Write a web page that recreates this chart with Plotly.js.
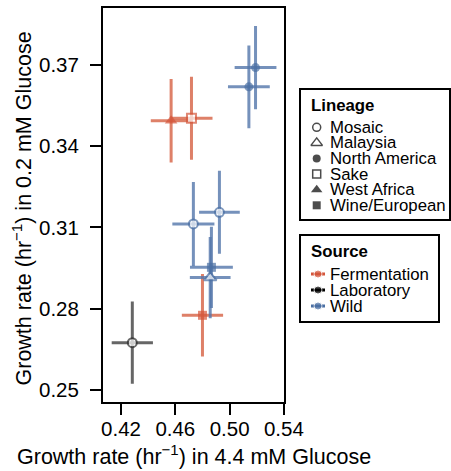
<!DOCTYPE html>
<html>
<head>
<meta charset="utf-8">
<script src="https://cdn.plot.ly/plotly-3.0.1.min.js"></script>
<style>html,body{margin:0;padding:0;background:#fff;}#chart{width:451px;height:471px;}</style>
</head>
<body>
<div id="chart"></div>
<script>
// ---- data ----
const strainLineage = ["West Africa","Sake","Wine/European","Mosaic","North America","North America","Mosaic","Mosaic","Wine/European","Malaysia"];
const strainSource  = ["Fermentation","Fermentation","Fermentation","Laboratory","Wild","Wild","Wild","Wild","Wild","Wild"];
const growth44  = [0.4569,0.4719,0.4800,0.4283,0.5191,0.5142,0.4733,0.4925,0.4866,0.4857];
const growth02  = [0.3494,0.3503,0.2776,0.2675,0.3690,0.3619,0.3113,0.3156,0.2953,0.2915];
const err44     = [0.0150,0.0155,0.0152,0.0152,0.0154,0.0154,0.0155,0.0150,0.0158,0.0150];
const err02     = [0.0154,0.0153,0.0152,0.0152,0.0154,0.0153,0.0155,0.0153,0.0150,0.0150];

const lineageNames = ["Mosaic","Malaysia","North America","Sake","West Africa","Wine/European"];
const sourceNames  = ["Fermentation","Laboratory","Wild"];
const xTicks = [0.42,0.46,0.50,0.54];
const yTicks = [0.25,0.28,0.31,0.34,0.37];

// ---- styles ----
const W = 451, H = 471;
const symbolOf = {"Mosaic":"circle","Malaysia":"triangle-up","North America":"circle","Sake":"square","West Africa":"triangle-up","Wine/European":"square"};
const openOf   = {"Mosaic":true,"Malaysia":true,"North America":false,"Sake":true,"West Africa":false,"Wine/European":false};
const sizeOf   = {"circle":9,"square":9,"triangle-up":11};
const markColor = {"Fermentation":"#D4553A","Laboratory":"#2b2b2b","Wild":"#4A6FA3"};
const barColor  = {"Fermentation":"rgba(214,96,66,0.8)","Laboratory":"rgba(85,85,85,0.9)","Wild":"rgba(82,118,170,0.8)"};
const legColor  = {"Fermentation":"#D4553A","Laboratory":"#000000","Wild":"#4A6FA3"};

const FONT = "Liberation Sans, Arial, Helvetica, sans-serif";
const LEGFS = 16.8, TITLEFS = 21.5, TICKFS = 20.5;
const traces = [];
sourceNames.forEach(src => {
  const idx = strainSource.map((s,i)=> s===src ? i : -1).filter(i=>i>=0);
  traces.push({
    type:"scatter", mode:"markers", xaxis:"x", yaxis:"y",
    x: idx.map(i=>growth44[i]), y: idx.map(i=>growth02[i]),
    error_x:{type:"data", array: idx.map(i=>err44[i]), visible:true, color:barColor[src], thickness:3, width:0},
    error_y:{type:"data", array: idx.map(i=>err02[i]), visible:true, color:barColor[src], thickness:3, width:0},
    marker:{
      symbol: idx.map(i=>symbolOf[strainLineage[i]]),
      size: idx.map(i=>sizeOf[symbolOf[strainLineage[i]]]),
      color: idx.map(i=> openOf[strainLineage[i]] ? "#ffffff" : markColor[src]),
      line:{color: markColor[src], width: idx.map(i=> openOf[strainLineage[i]] ? 2 : 0)}
    },
    showlegend:false, hoverinfo:"skip", cliponaxis:false
  });
});

// ---- hand-drawn legends on a pixel-scaled overlay axis ----
const legX0 = 316.7, legTextX = 328, lineageY0 = 127.3, step = 15.6;
traces.push({
  type:"scatter", mode:"markers", xaxis:"x2", yaxis:"y2",
  x: lineageNames.map(()=>legX0),
  y: lineageNames.map((n,k)=>lineageY0 + k*step),
  marker:{
    symbol: lineageNames.map(n=>symbolOf[n]),
    size: lineageNames.map(n=> symbolOf[n]==="triangle-up" ? 10 : 8),
    color: lineageNames.map(n=> openOf[n] ? "#ffffff" : "#000000"),
    line:{color:"#000000", width: lineageNames.map(n=> openOf[n] ? 1.5 : 0)}
  },
  showlegend:false, hoverinfo:"skip", cliponaxis:false
});
const sourceY0 = 274, sStep = 16;
sourceNames.forEach((s,k)=>{
  const yy = sourceY0 + k*sStep;
  traces.push({
    type:"scatter", mode:"lines+markers", xaxis:"x2", yaxis:"y2",
    x:[311, 318, 325], y:[yy,yy,yy],
    line:{color:legColor[s], width:3},
    marker:{color:legColor[s], size:[0,8,0], symbol:"circle"},
    showlegend:false, hoverinfo:"skip", cliponaxis:false
  });
});

const annotations = [];
annotations.push({xref:"x2", yref:"y2", x:309, y:105, text:"<b>Lineage</b>", showarrow:false, xanchor:"left", yanchor:"middle", font:{family:FONT, size:LEGFS, color:"#000"}});
lineageNames.forEach((n,k)=>annotations.push({xref:"x2", yref:"y2", x:legTextX, y:lineageY0+k*step, text:n, showarrow:false, xanchor:"left", yanchor:"middle", font:{family:FONT, size:LEGFS, color:"#000"}}));
annotations.push({xref:"x2", yref:"y2", x:309, y:251.7, text:"<b>Source</b>", showarrow:false, xanchor:"left", yanchor:"middle", font:{family:FONT, size:LEGFS, color:"#000"}});
sourceNames.forEach((n,k)=>annotations.push({xref:"x2", yref:"y2", x:legTextX, y:sourceY0+k*sStep, text:n, showarrow:false, xanchor:"left", yanchor:"middle", font:{family:FONT, size:LEGFS, color:"#000"}}));
// axis titles
annotations.push({xref:"x2", yref:"y2", x:193.5, y:455, text:"Growth rate (hr<sup>\u22121</sup>) in 4.4 mM Glucose", showarrow:false, xanchor:"center", yanchor:"middle", font:{family:FONT, size:TITLEFS, color:"#000"}});
annotations.push({xref:"x2", yref:"y2", x:21, y:208.5, text:"Growth rate (hr<sup>\u22121</sup>) in 0.2 mM Glucose", showarrow:false, textangle:-90, xanchor:"center", yanchor:"middle", font:{family:FONT, size:TITLEFS, color:"#000"}});

const shapes = [
  {type:"rect", xref:"x2", yref:"y2", x0:300, x1:450, y0:89, y1:220, line:{color:"#000", width:2}},
  {type:"rect", xref:"x2", yref:"y2", x0:300, x1:439, y0:235, y1:322, line:{color:"#000", width:2}}
];

const layout = {
  width:W, height:H, margin:{l:0,r:0,t:0,b:0}, paper_bgcolor:"#fff", plot_bgcolor:"rgba(0,0,0,0)",
  font:{family:FONT, color:"#000"},
  showlegend:false,
  xaxis:{domain:[103/W, 284.3/W], anchor:"y", range:[0.4067,0.5403], tickvals:xTicks, ticktext:xTicks.map(v=>v.toFixed(2)),
         showline:true, mirror:true, linewidth:2, linecolor:"#000", ticks:"outside", ticklen:11, tickwidth:2, tickcolor:"#000",
         ticklabelstandoff:-4,
         showgrid:false, zeroline:false, tickfont:{family:FONT, size:TICKFS, color:"#000"}},
  yaxis:{domain:[(H-402)/H, (H-8)/H], anchor:"x", range:[0.2456,0.3910], tickvals:yTicks, ticktext:yTicks.map(v=>v.toFixed(2)),
         showline:true, mirror:true, linewidth:2, linecolor:"#000", ticks:"outside", ticklen:11, tickwidth:2, tickcolor:"#000",
         ticklabelstandoff:7,
         showgrid:false, zeroline:false, tickfont:{family:FONT, size:TICKFS, color:"#000"}},
  xaxis2:{domain:[0,1], anchor:"y2", range:[0,W], visible:false, fixedrange:true},
  yaxis2:{domain:[0,1], anchor:"x2", range:[H,0], visible:false, fixedrange:true},
  annotations:annotations, shapes:shapes
};

Plotly.newPlot("chart", traces, layout, {staticPlot:true, displayModeBar:false});
</script>
</body>
</html>
